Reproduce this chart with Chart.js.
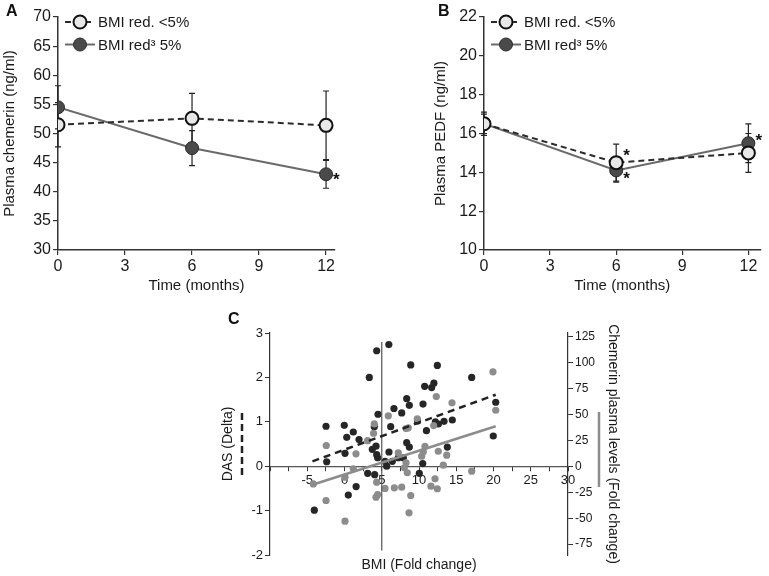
<!DOCTYPE html>
<html lang="en">
<head>
<meta charset="UTF-8">
<title>Chemerin, PEDF and BMI change</title>
<script src="https://cdn.jsdelivr.net/npm/chart.js"></script>
<style>
    body {
        margin: 0;
        background: white;
        font-family: 'Liberation Sans', Arial, sans-serif;
    }
    .fig { position: relative; width: 769px; height: 576px; }
    .panel { position: absolute; }
    .letter { position: absolute; font-weight: bold; font-size: 16px; line-height: 16px; color: #111; }
</style>
</head>
<body>
<div class="fig">
    <div class="panel" style="left:0;top:0"><canvas id="chartA" width="384" height="300"></canvas></div>
    <div class="panel" style="left:430px;top:0"><canvas id="chartB" width="339" height="300"></canvas></div>
    <div class="panel" style="left:200px;top:290px"><canvas id="chartC" width="430" height="286"></canvas></div>
    <div class="letter" style="left:6px;top:3px">A</div>
    <div class="letter" style="left:438px;top:3px">B</div>
    <div class="letter" style="left:228px;top:311px">C</div>
</div>

<script>
    // ---- data ----
    const months = [0, 6, 12];
    const monthTicks = [0, 3, 6, 9, 12];
    const groupNames = ['BMI red. <5%', 'BMI red³ 5%'];

    // panel A - plasma chemerin (ng/ml), mean and error
    const chemLow = [51.5, 52.6, 51.4];
    const chemLowErr = [3.8, 4.3, 5.9];
    const chemHigh = [54.5, 47.5, 43.0];
    const chemHighErr = [3.7, 3.0, 2.4];
    const chemLowSig = [false, false, false];
    const chemHighSig = [false, false, true];
    const chemTicks = [30, 35, 40, 45, 50, 55, 60, 65, 70];

    // panel B - plasma PEDF (ng/ml)
    const pedfLow = [16.5, 14.5, 15.0];
    const pedfLowErr = [0.6, 0.95, 1.0];
    const pedfHigh = [16.5, 14.1, 15.5];
    const pedfHighErr = [0.5, 0.6, 1.0];
    const pedfLowSig = [false, true, false];
    const pedfHighSig = [false, true, true];
    const pedfTicks = [10, 12, 14, 16, 18, 20, 22];

    // panel C - BMI fold change vs DAS delta (left) and chemerin fold change (right)
    const bmiTicks = [-10, -7.5, -5, -2.5, 0, 2.5, 5, 7.5, 10, 12.5, 15, 17.5, 20, 22.5, 25, 27.5, 30];
    const dasTicks = [-2, -1, 0, 1, 2, 3];
    const chemFoldTicks = [-75, -50, -25, 0, 25, 50, 75, 100, 125];

    const dasBmi = [-4.05, -2.48, -2.39, -0.03, 0.3, 0.07, 1.18, 1.95, 0.51, 1.56, 3.33, 4.32, 5.95, 3.73, 4.23,
        4.32, 4.45, 4.0, 4.5, 3.11, 4.05, 5.44, 5.97, 6.42, 5.66, 6.2, 6.64, 7.22, 7.9, 7.68, 8.35, 8.7, 8.89,
        8.35, 8.7, 9.8, 10.54, 10.5, 10.04, 10.76, 11.7, 12.0, 11.0, 12.2, 12.46, 12.6, 13.36, 13.8, 14.47,
        17.07, 19.97, 20.3];
    const dasDelta = [-0.99, 0.90, 0.10, 0.92, 0.65, 0.29, 0.77, 0.60, -0.65, -0.46, 2.0, 2.60, 2.74, 0.38, 0.45,
        0.26, 0.19, 0.89, 1.17, -0.16, -0.19, 0.11, 0.32, 0.11, 0.0, 0.89, 1.30, 0.19, 0.19, 1.20, 1.52, 1.37, 2.28,
        0.53, 0.43, 1.02, 1.40, 0.06, -0.16, 1.80, 1.77, 1.87, 0.80, 1.0, 2.27, 0.95, 1.01, 0.43, 1.04,
        2.0, 0.68, 1.44];

    const chemBmi = [-4.19, -2.45, -2.48, 0.07, 0.07, 1.18, 1.54, 3.1, 3.9, 4.0, 5.88, 4.32, 4.45, 4.23, 5.44,
        6.69, 7.68, 7.22, 8.26, 8.03, 8.43, 8.26, 8.56, 9.77, 10.58, 10.36, 10.8, 11.97, 12.32, 12.59, 13.72,
        13.26, 14.43, 17.07, 12.15, 11.6, 12.46, 8.89, 8.66, 19.93, 20.3];
    const chemFold = [-17, 19.9, -33, -52.9, -10.6, -2.5, 11.9, 24.5, 31.7, 40.7, 48.4, -15.4, -27.2, -29.8, -21.4,
        -20.8, -20.2, 12.9, 3.3, -1.5, -6.3, 36.2, 36.9, 45.6, 13.8, 9.6, 19.2, 39.1, 67.0, 14.4, 10.6,
        1.0, 61.0, -4.8, -12.1, -19.2, -21.7, -28.2, -44.8, 90.8, 53.8];

    const dasFitX = [-4.3, 20.3];
    const dasFitY = [0.11, 1.61];
    const chemFitX = [-4.2, 20.3];
    const chemFitY = [-17.6, 38.4];
    const refLineX = [5, 5];
    const refLineY = [-1.9, 2.8];

    // ---- helpers ----
    const FONT = "'Liberation Sans', Arial, sans-serif";
    const AXIS = '#333';
    const TEXT = '#1a1a1a';

    function pts(xs, ys) {
        return xs.map((x, i) => ({ x: x, y: ys[i] }));
    }
    function fixedTicks(values) {
        return scale => { scale.ticks = values.map(v => ({ value: v })); };
    }

    // error bars, stars and the inside legend for panels A and B
    const timePlotDecor = {
        id: 'timePlotDecor',
        beforeDatasetsDraw(chart) {
            const ctx = chart.ctx;
            const xs = chart.scales.x, ys = chart.scales.y;
            chart.data.datasets.forEach(ds => {
                ctx.save();
                ctx.strokeStyle = '#222';
                ctx.lineWidth = 1.2;
                ds.data.forEach((p, j) => {
                    const px = xs.getPixelForValue(p.x);
                    const top = ys.getPixelForValue(p.y + ds.errors[j]);
                    const bot = ys.getPixelForValue(p.y - ds.errors[j]);
                    ctx.beginPath();
                    ctx.moveTo(px, top); ctx.lineTo(px, bot);
                    ctx.moveTo(px - 3, top); ctx.lineTo(px + 3, top);
                    ctx.moveTo(px - 3, bot); ctx.lineTo(px + 3, bot);
                    ctx.stroke();
                });
                ctx.restore();
            });
        },
        afterDatasetsDraw(chart) {
            const ctx = chart.ctx;
            const xs = chart.scales.x, ys = chart.scales.y;
            const area = chart.chartArea;
            ctx.save();
            // significance stars
            ctx.fillStyle = '#111';
            ctx.font = 'bold 17px ' + FONT;
            ctx.textAlign = 'left';
            ctx.textBaseline = 'middle';
            chart.data.datasets.forEach(ds => {
                ds.data.forEach((p, j) => {
                    if (!ds.sig[j]) return;
                    ctx.fillText('*', xs.getPixelForValue(p.x) + 7, ys.getPixelForValue(p.y) + ds.starDy[j] + 3);
                });
            });
            // legend (line + marker + label)
            ctx.font = '15px ' + FONT;
            chart.data.datasets.forEach((ds, i) => {
                const y = area.top + 5 + i * 22.5;
                const x0 = area.left;
                ctx.strokeStyle = ds.borderColor;
                ctx.lineWidth = ds.borderWidth;
                ctx.setLineDash(ds.borderDash || []);
                ctx.beginPath();
                ctx.moveTo(x0 + 7, y); ctx.lineTo(x0 + 37, y);
                ctx.stroke();
                ctx.setLineDash([]);
                ctx.beginPath();
                ctx.arc(x0 + 22, y, ds.pointRadius, 0, Math.PI * 2);
                ctx.fillStyle = ds.pointBackgroundColor;
                ctx.fill();
                ctx.lineWidth = ds.pointBorderWidth;
                ctx.strokeStyle = ds.pointBorderColor;
                ctx.stroke();
                ctx.fillStyle = TEXT;
                ctx.fillText(ds.label, x0 + 40, y + 1);
            });
            ctx.restore();
        }
    };

    function timeChart(id, cfg) {
        const lowStyle = {
            borderColor: '#2b2b2b', borderWidth: 2, borderDash: [6, 4],
            pointRadius: 6.5, pointBackgroundColor: '#e8e8e8', pointBorderColor: '#111', pointBorderWidth: 2
        };
        const highStyle = {
            borderColor: '#6a6a6a', borderWidth: 2,
            pointRadius: 6.5, pointBackgroundColor: '#4a4a4a', pointBorderColor: '#2a2a2a', pointBorderWidth: 1
        };
        return new Chart(document.getElementById(id), {
            type: 'line',
            data: {
                datasets: [
                    Object.assign({ label: groupNames[0], data: pts(months, cfg.low), errors: cfg.lowErr,
                        sig: cfg.lowSig, starDy: cfg.lowStarDy }, lowStyle),
                    Object.assign({ label: groupNames[1], data: pts(months, cfg.high), errors: cfg.highErr,
                        sig: cfg.highSig, starDy: cfg.highStarDy }, highStyle)
                ]
            },
            options: {
                responsive: false,
                animation: false,
                layout: { padding: { top: 17, right: cfg.padRight, left: 0, bottom: 0 } },
                scales: {
                    x: {
                        type: 'linear', min: 0, max: cfg.xMax,
                        afterBuildTicks: fixedTicks(monthTicks),
                        afterFit: s => { s.height = 50; },
                        grid: { display: true, drawOnChartArea: false, tickLength: 5, color: AXIS, lineWidth: 1.2 },
                        border: { color: AXIS, width: 1.5 },
                        ticks: { color: TEXT, font: { family: FONT, size: 16 }, padding: 2, maxRotation: 0 },
                        title: { display: true, text: 'Time (months)', color: TEXT,
                            font: { family: FONT, size: 15 }, padding: { top: 0, bottom: 5 } }
                    },
                    y: {
                        min: cfg.yTicks[0], max: cfg.yTicks[cfg.yTicks.length - 1],
                        afterBuildTicks: fixedTicks(cfg.yTicks),
                        afterFit: s => { s.width = cfg.yWidth; },
                        grid: { display: true, drawOnChartArea: false, tickLength: 5, color: AXIS, lineWidth: 1.2 },
                        border: { color: AXIS, width: 1.5 },
                        ticks: { color: TEXT, font: { family: FONT, size: 16 }, padding: 2 },
                        title: { display: true, text: cfg.yTitle, color: TEXT,
                            font: { family: FONT, size: 15 }, padding: { top: cfg.titlePad, bottom: 0 } }
                    }
                },
                plugins: { legend: { display: false }, tooltip: { enabled: false } }
            },
            plugins: [timePlotDecor]
        });
    }

    timeChart('chartA', {
        low: chemLow, lowErr: chemLowErr, lowSig: chemLowSig, lowStarDy: [0, 0, 0],
        high: chemHigh, highErr: chemHighErr, highSig: chemHighSig, highStarDy: [0, 0, 3],
        yTicks: chemTicks, yTitle: 'Plasma chemerin (ng/ml)', yWidth: 58, titlePad: 1, xMax: 12.4, padRight: 49
    });
    timeChart('chartB', {
        low: pedfLow, lowErr: pedfLowErr, lowSig: pedfLowSig, lowStarDy: [0, -9, 0],
        high: pedfHigh, highErr: pedfHighErr, highSig: pedfHighSig, highStarDy: [0, 6, -5],
        yTicks: pedfTicks, yTitle: 'Plasma PEDF (ng/ml)', yWidth: 54, titlePad: 2, xMax: 12.55, padRight: 5
    });

    // ---- panel C ----
    // short key lines beside the two axis titles
    const axisKeys = {
        id: 'axisKeys',
        afterDraw(chart) {
            const ctx = chart.ctx, a = chart.chartArea;
            const mid = (a.top + a.bottom) / 2;
            ctx.save();
            ctx.lineWidth = 2.5;
            ctx.strokeStyle = '#222';
            ctx.setLineDash([7, 4]);
            ctx.beginPath();
            ctx.moveTo(a.left - 28, mid - 31); ctx.lineTo(a.left - 28, mid + 34);
            ctx.stroke();
            ctx.setLineDash([]);
            ctx.strokeStyle = '#8c8c8c';
            ctx.beginPath();
            ctx.moveTo(a.right + 31, mid - 32); ctx.lineTo(a.right + 31, mid + 43);
            ctx.stroke();
            ctx.restore();
        }
    };

    const tickGrid = { display: true, drawOnChartArea: false, tickLength: 5, color: AXIS, lineWidth: 1 };

    new Chart(document.getElementById('chartC'), {
        type: 'scatter',
        data: {
            datasets: [
                { type: 'line', data: pts(dasFitX, dasFitY), yAxisID: 'y', borderColor: '#222',
                  borderWidth: 2.5, borderDash: [7, 5], pointRadius: 0 },
                { type: 'line', data: pts(chemFitX, chemFitY), yAxisID: 'y2', borderColor: '#8c8c8c',
                  borderWidth: 2.5, pointRadius: 0 },
                { type: 'line', data: pts(refLineX, refLineY), yAxisID: 'y', borderColor: '#555',
                  borderWidth: 1.2, pointRadius: 0 },
                { data: pts(chemBmi, chemFold), yAxisID: 'y2', pointRadius: 3.6,
                  backgroundColor: '#8c8c8c', borderColor: '#8c8c8c', borderWidth: 0 },
                { data: pts(dasBmi, dasDelta), yAxisID: 'y', pointRadius: 3.6,
                  backgroundColor: '#262626', borderColor: '#262626', borderWidth: 0 }
            ]
        },
        options: {
            responsive: false,
            animation: false,
            layout: { padding: { top: 43, left: 0, right: 0, bottom: 0 } },
            scales: {
                x: {
                    type: 'linear', min: -10, max: 30, position: { y: 0 },
                    afterBuildTicks: fixedTicks(bmiTicks),
                    grid: Object.assign({}, tickGrid, { tickLength: 4 }),
                    border: { color: '#555', width: 1.2 },
                    ticks: {
                        color: TEXT, font: { family: FONT, size: 13 }, padding: 2, maxRotation: 0,
                        autoSkip: false,
                        callback: v => (v % 5 === 0 && v > -10) ? String(v) : ''
                    }
                },
                xTitle: {
                    type: 'linear', position: 'bottom', axis: 'x',
                    afterFit: s => { s.height = 21; },
                    grid: { display: false }, border: { display: false }, ticks: { display: false },
                    title: { display: true, text: 'BMI (Fold change)', color: TEXT,
                        font: { family: FONT, size: 14 }, padding: { top: 0, bottom: 2 } }
                },
                y: {
                    position: 'left', min: -2, max: 3,
                    afterBuildTicks: fixedTicks(dasTicks),
                    afterFit: s => { s.width = 70; },
                    grid: tickGrid,
                    border: { color: AXIS, width: 1.2 },
                    ticks: { color: TEXT, font: { family: FONT, size: 13 }, padding: 2 },
                    title: { display: true, text: 'DAS (Delta)', color: TEXT,
                        font: { family: FONT, size: 14 }, padding: { top: 20, bottom: 0 } }
                },
                y2: {
                    position: 'right', min: -85.4, max: 128.1,
                    afterBuildTicks: fixedTicks(chemFoldTicks),
                    afterFit: s => { s.width = 62; },
                    grid: tickGrid,
                    border: { color: AXIS, width: 1.2 },
                    ticks: { color: TEXT, font: { family: FONT, size: 12 }, padding: 2 },
                    title: { display: true, text: 'Chemerin plasma levels (Fold change)', color: TEXT,
                        font: { family: FONT, size: 14 }, padding: { top: 9, bottom: 0 } }
                }
            },
            plugins: { legend: { display: false }, tooltip: { enabled: false } }
        },
        plugins: [axisKeys]
    });
</script>
</body>
</html>
